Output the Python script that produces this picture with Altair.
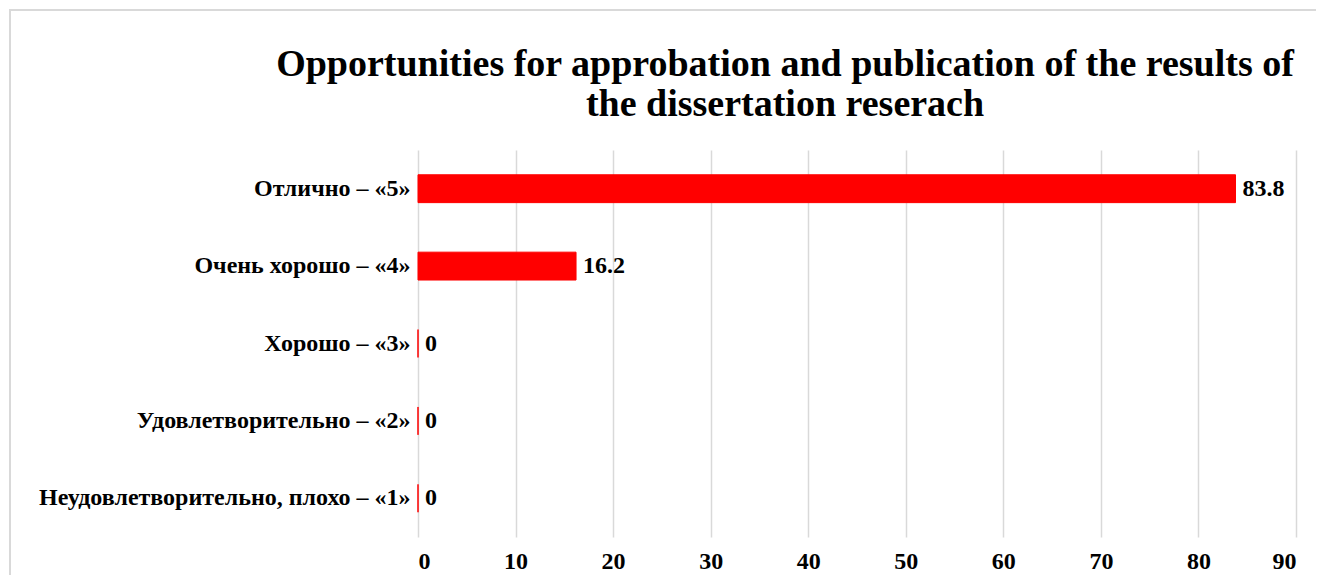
import altair as alt
import pandas as pd

categories = [
    "Отлично – «5»",
    "Очень хорошо – «4»",
    "Хорошо – «3»",
    "Удовлетворительно – «2»",
    "Неудовлетворительно, плохо – «1»",
]
values = [83.8, 16.2, 0, 0, 0]

df = pd.DataFrame({"cat": categories, "val": values})

FONT = "Liberation Serif"

x = alt.X("val:Q", scale=alt.Scale(domain=[0, 90]),
          axis=alt.Axis(values=list(range(0, 91, 10)), title=None, domain=False, ticks=False,
                        grid=True, gridColor="#d9d9d9", gridWidth=1.5,
                        labelFont=FONT, labelFontSize=24, labelFontWeight="bold",
                        labelColor="black", labelPadding=12))
y = alt.Y("cat:N", sort=categories,
          scale=alt.Scale(paddingInner=0.64, paddingOuter=0.32),
          axis=alt.Axis(title=None, domain=False, ticks=False, grid=False,
                        labelFont=FONT, labelFontSize=24, labelFontWeight="bold",
                        labelColor="black", labelPadding=8, labelLimit=500))

base = alt.Chart(df)

bars = base.mark_bar(color="#ff0000", stroke="#ff0000", strokeWidth=1).encode(x=x, y=y)
labels = base.mark_text(align="left", baseline="middle", dx=7, font=FONT, fontSize=24,
                        fontWeight="bold", color="black").encode(x=x, y=y, text=alt.Text("val:Q"))

frame = alt.Chart(pd.DataFrame({"a": [0]})).mark_rect(
    filled=False, stroke="#d9d9d9", strokeWidth=2, clip=False
).encode(x=alt.value(-408), x2=alt.value(910), y=alt.value(-140), y2=alt.value(450))

chart = alt.layer(frame, bars, labels).properties(
    width=878,
    height=387,
    title=alt.TitleParams(
        text=["Opportunities for approbation and publication of the results of",
              "the dissertation reserach"],
        font=FONT, fontSize=38, fontWeight="bold", color="black",
        lineHeight=40, anchor="middle", dx=-72, offset=-115,
    ),
    padding={"left": 410, "top": 142, "right": 20, "bottom": 38},
    autosize=alt.AutoSizeParams(type="none"),
).configure(background="white").configure_view(stroke=None)

chart.save("out.html", embed_options={"renderer": "svg", "actions": False})
